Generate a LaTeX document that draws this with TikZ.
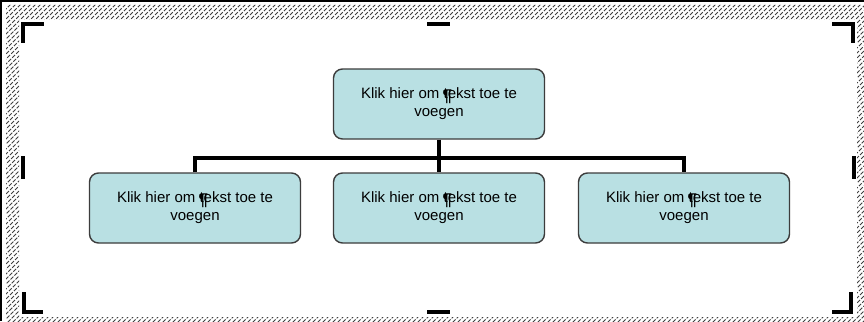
\documentclass[tikz,border=0pt]{standalone}
\usepackage{fontspec}
\setmainfont{Liberation Sans}
\definecolor{boxfill}{RGB}{185,224,227}
\definecolor{boxline}{RGB}{60,60,60}
\tikzset{
  orgbox/.style={draw=boxline, line width=1.4pt, fill=boxfill, rounded corners=9pt,
    minimum width=211pt, minimum height=70pt, inner sep=0pt, align=center,
    font=\fontsize{15}{18}\selectfont},
  conn/.style={line width=4pt, black},
  handle/.style={fill=black, draw=none},
  hatch/.style={black!75, line width=0.9pt, dash pattern=on 4pt off 1.5pt}
}
% caption text with the paragraph mark sitting on the first letter of "tekst"
\newcommand{\kliktext}{Klik hier om \rlap{\kern-1pt\fontsize{17}{17}\selectfont\bfseries\raisebox{-2.5pt}{¶}}tekst toe te\\voegen}
\begin{document}
\begin{tikzpicture}[x=1pt,y=-1pt]
  \useasboundingbox (0,0) rectangle (864,321);
  \fill[white] (0,0) rectangle (864,321);

  % hatched selection frame
  \begin{scope}[even odd rule]
    \clip (6,5) rectangle (870,330) (19,20) rectangle (857,317);
    \foreach \i in {0,5,...,1220} {
      \draw[hatch] (\i-340,330) -- (\i,-10);
    }
  \end{scope}

  % window edges
  \draw[black, line width=2.2pt] (1.3,0) -- (1.3,321);
  \draw[black, line width=2pt] (0,1.2) -- (864,1.2);

  % sizing handles
  \fill[handle] (21,22) rectangle (25,43);
  \fill[handle] (21,22) rectangle (44,26);
  \fill[handle] (832,22) rectangle (855,26);
  \fill[handle] (851,22) rectangle (855,43);
  \fill[handle] (22,292) rectangle (26,314);
  \fill[handle] (22,310) rectangle (43,314);
  \fill[handle] (849,292) rectangle (853,314);
  \fill[handle] (832,310) rectangle (853,314);
  \fill[handle] (427,22) rectangle (450,26);
  \fill[handle] (427,310) rectangle (450,314);
  \fill[handle] (21,156) rectangle (25,179);
  \fill[handle] (852,156) rectangle (856,179);

  % organisation chart
  \node[orgbox] (top) at (439,104) {\kliktext};
  \node[orgbox] (left) at (195,208) {\kliktext};
  \node[orgbox] (mid) at (439,208) {\kliktext};
  \node[orgbox] (right) at (684,208) {\kliktext};
  \coordinate (bus) at (439,157.5);

  \draw[conn] (top.south) -- (mid.north);
  \draw[conn] (left.north) |- (right.north |- bus) -- (right.north);
\end{tikzpicture}
\end{document}
